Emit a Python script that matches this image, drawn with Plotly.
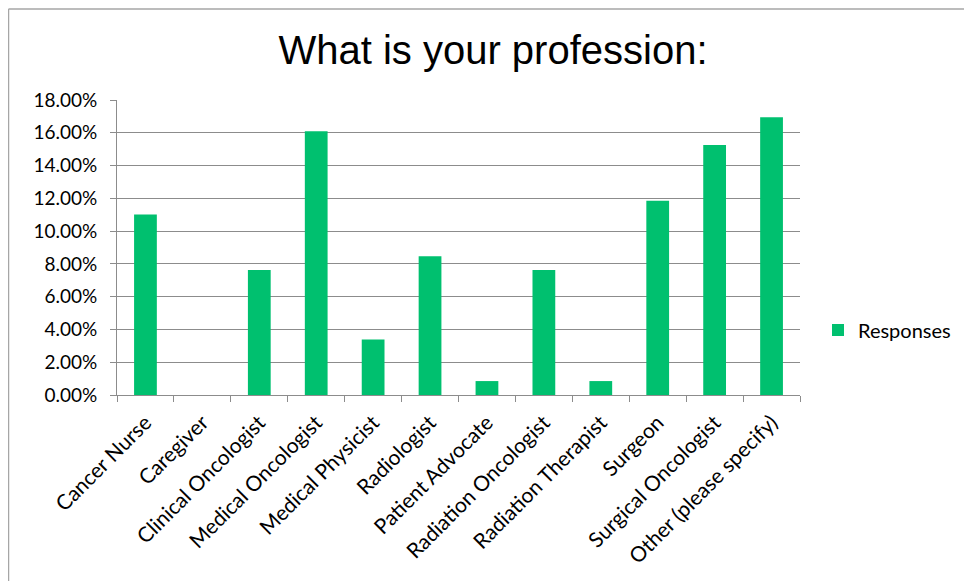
import plotly.graph_objects as go

categories = ["Cancer Nurse", "Caregiver", "Clinical Oncologist", "Medical Oncologist",
              "Medical Physicist", "Radiologist", "Patient Advocate", "Radiation Oncologist",
              "Radiation Therapist", "Surgeon", "Surgical Oncologist", "Other (please specify)"]
responses = [0.1102, 0.0, 0.0763, 0.1610, 0.0339, 0.0847, 0.0085, 0.0763, 0.0085, 0.1186, 0.1525, 0.1695]
y_ticks = [0, 0.02, 0.04, 0.06, 0.08, 0.10, 0.12, 0.14, 0.16, 0.18]

# page has an 8px body margin; figure coordinates are page - 8
W, H = 964, 573
L, T = 109, 92
R = W - 792
B = H - 387
pw, ph = W - L - R, H - T - B

fig = go.Figure()
fig.add_trace(go.Bar(x=categories, y=responses, name="Responses",
                     marker=dict(color="#00C06F", line=dict(width=0)),
                     showlegend=True))

grid = "#8C8C8C"
fig.update_layout(
    width=W, height=H,
    margin=dict(l=L, r=R, t=T, b=B, autoexpand=False),
    paper_bgcolor="white", plot_bgcolor="white",
    bargap=0.6,
    title=dict(text="What is your profession:", x=(493 - 8) / W, xanchor="center",
               y=1 - (50 - 8) / H, yanchor="middle",
               font=dict(family="Liberation Sans, Arial", size=40, color="black")),
    font=dict(family="Lato, Calibri, sans-serif", size=19, color="black"),
    xaxis=dict(type="category", tickangle=-45, showline=True, linecolor=grid, linewidth=1,
               ticks="outside", ticklen=6, tickcolor=grid, tickson="boundaries",
               showgrid=False, tickfont=dict(size=21), ticklabelstandoff=6),
    yaxis=dict(range=[0, 0.18], tickvals=y_ticks, tickformat=".2%", showline=True,
               linecolor=grid, linewidth=1, ticks="outside", ticklen=6, tickcolor=grid,
               showgrid=True, gridcolor=grid, gridwidth=1, zeroline=False,
               tickfont=dict(size=19), ticklabelstandoff=9),
    legend=dict(x=(810 - L) / pw, y=(H - B - 322) / ph, xanchor="left", yanchor="middle",
                font=dict(size=20), bgcolor="rgba(0,0,0,0)"),
)

# chart area border (partially visible)
bx0 = (0.5 - L) / pw
by1 = (H - B - 1) / ph
fig.add_shape(type="line", xref="paper", yref="paper", x0=bx0, x1=(W + 20 - L) / pw,
              y0=by1, y1=by1, line=dict(color="#A6A6A6", width=1.5))
fig.add_shape(type="line", xref="paper", yref="paper", x0=bx0, x1=bx0,
              y0=by1, y1=(H - B - H - 20) / ph, line=dict(color="#A6A6A6", width=1.5))

fig.write_html("out.html")
